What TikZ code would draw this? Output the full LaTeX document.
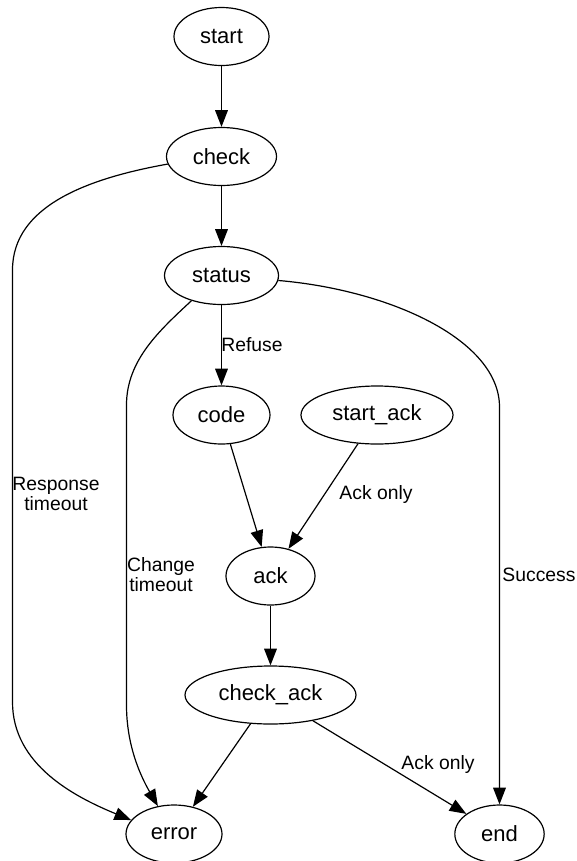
\documentclass[tikz,border=0pt]{standalone}
\usepackage{fontspec}
\setmainfont{Liberation Sans}
\usetikzlibrary{shapes.geometric,arrows.meta}
\begin{document}
\begin{tikzpicture}[x=0.75pt,y=-0.75pt,
  st/.style={draw, ellipse, line width=0.9pt, inner sep=0pt, minimum height=43.5pt,
             font=\fontsize{16.5}{19}\selectfont},
  edge/.style={draw, line width=0.9pt, -{Triangle[length=12.5pt,width=9.5pt]}},
  lbl/.style={font=\fontsize{14.5}{15.5}\selectfont, inner sep=0pt, align=center}]
\useasboundingbox (0,0) rectangle (576,861);
% nodes
\node[st, minimum width=71.25pt] (start) at (221.5,36.5) {start};
\node[st, minimum width=82.5pt] (check) at (221.5,156.5) {check};
\node[st, minimum width=85.5pt] (status) at (221.5,275.5) {status};
\node[st, minimum width=72.75pt] (code) at (221.5,415) {code};
\node[st, minimum width=114pt] (startack) at (377,415) {start\_ack};
\node[st, minimum width=66.75pt] (ack) at (270.5,576) {ack};
\node[st, minimum width=128.25pt] (checkack) at (270.5,695) {check\_ack};
\node[st, minimum width=72pt] (error) at (174,834) {error};
\node[st, minimum width=67pt] (end) at (499.5,834) {end};
% waypoints
\coordinate (rt1) at (12.5,270);
\coordinate (rt2) at (12.5,702);
\coordinate (ct1) at (126.5,405);
\coordinate (ct2) at (126.5,705);
\coordinate (sc1) at (499.5,407);
% edges
\draw[edge] (start) -- (check);
\draw[edge] (check) -- (status);
\draw[edge] (status) -- (code);
\draw[edge] (code) -- (ack);
\draw[edge] (startack) -- (ack);
\draw[edge] (ack) -- (checkack);
\draw[edge] (checkack) -- (error);
\draw[edge] (checkack) -- (end);
\draw[edge] (check.188) .. controls (90,178) and (12.5,205) .. (rt1) -- (rt2)
  .. controls (12.5,765) and (75,797) .. (error.162);
\draw[edge] (status.220) .. controls (160,330) and (126.5,360) .. (ct1) -- (ct2)
  .. controls (126.5,745) and (140,775) .. (error.120);
\draw[edge] (status.355) .. controls (390,290) and (499.5,340) .. (sc1) -- (end.north);
% labels
\node[lbl] (lrefuse) at (252,345) {Refuse};
\node[lbl] (lresp) at (56,494) {Response\\timeout};
\node[lbl] (lchange) at (161,574.5) {Change\\timeout};
\node[lbl] (lack1) at (376,494) {Ack only};
\node[lbl] (lsucc) at (539,575) {Success};
\node[lbl] (lack2) at (438,764) {Ack only};
\end{tikzpicture}
\end{document}
